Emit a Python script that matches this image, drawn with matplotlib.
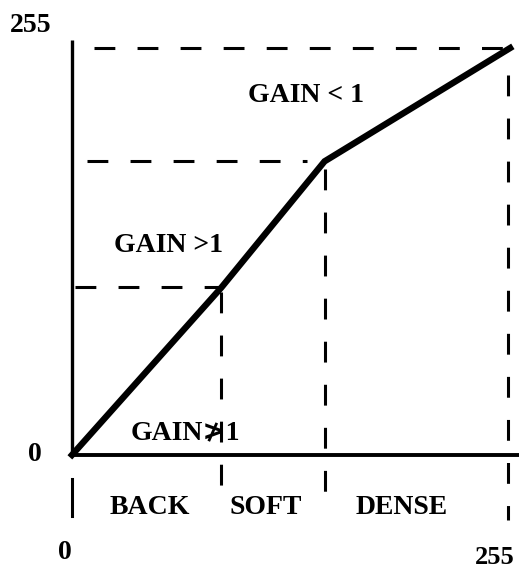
import matplotlib
matplotlib.use("Agg")
import matplotlib.pyplot as plt

plt.rcParams['font.family'] = ['Liberation Serif', 'DejaVu Serif', 'DejaVu Sans', 'Noto Sans CJK SC']
plt.rcParams['lines.scale_dashes'] = False

# transfer curve (input -> output, 8 bit)
curve_x = [0, 87, 147, 255]
curve_y = [0, 105, 184, 255]
regions = ['BACK', 'SOFT', 'DENSE']
region_x = [45, 113, 192]
gain_labels = ['GAIN≯1', 'GAIN >1', 'GAIN < 1']
gain_pos = [(66, 14), (56, 131), (136, 225)]

fig = plt.figure(figsize=(5.28, 5.74), dpi=100)
ax = fig.add_axes([0, 0, 1, 1])
ax.set_xlim(-41.9, 265.4)
ax.set_ylim(-74.6, 285.1)
ax.axis('off')

# axes
ax.plot([0, 0], [0, 260], color='black', lw=2.4, solid_capstyle='butt')
ax.plot([0, 260], [0, 0], color='black', lw=2.8, solid_capstyle='butt')

dash = dict(color='black', lw=2.2, dashes=(15, 16))
# horizontal guides
ax.plot([13, curve_x[3]], [curve_y[3], curve_y[3]], **dash)
ax.plot([9, 137], [curve_y[2], curve_y[2]], **dash)
ax.plot([2, curve_x[1]], [curve_y[1], curve_y[1]], **dash)
# vertical guides
ax.plot([curve_x[1], curve_x[1]], [curve_y[1] - 3, -31], **dash)
ax.plot([curve_x[2], curve_x[2]], [curve_y[2] - 5, -28], **dash)
ax.plot([curve_x[3] - 1, curve_x[3] - 1], [238, -41], **dash)
ax.plot([0, 0], [-15, -38], color='black', lw=2.2)

ax.plot(curve_x, curve_y, color='black', lw=4.6, solid_joinstyle='miter')

txt = dict(fontsize=20, fontweight='bold', ha='center', va='center')
for lab, (x, y) in zip(gain_labels, gain_pos):
    ax.text(x, y, lab, **txt)
for lab, x in zip(regions, region_x):
    ax.text(x, -33, lab, **txt)

ax.text(-24, 269, '255', **txt)
ax.text(-21.5, 0, '0', **txt)
ax.text(-4, -61, '0', **txt)
ax.text(246, -64, '255', fontsize=19, fontweight='bold', ha='center', va='center')

fig.savefig('out.png', dpi=100)
